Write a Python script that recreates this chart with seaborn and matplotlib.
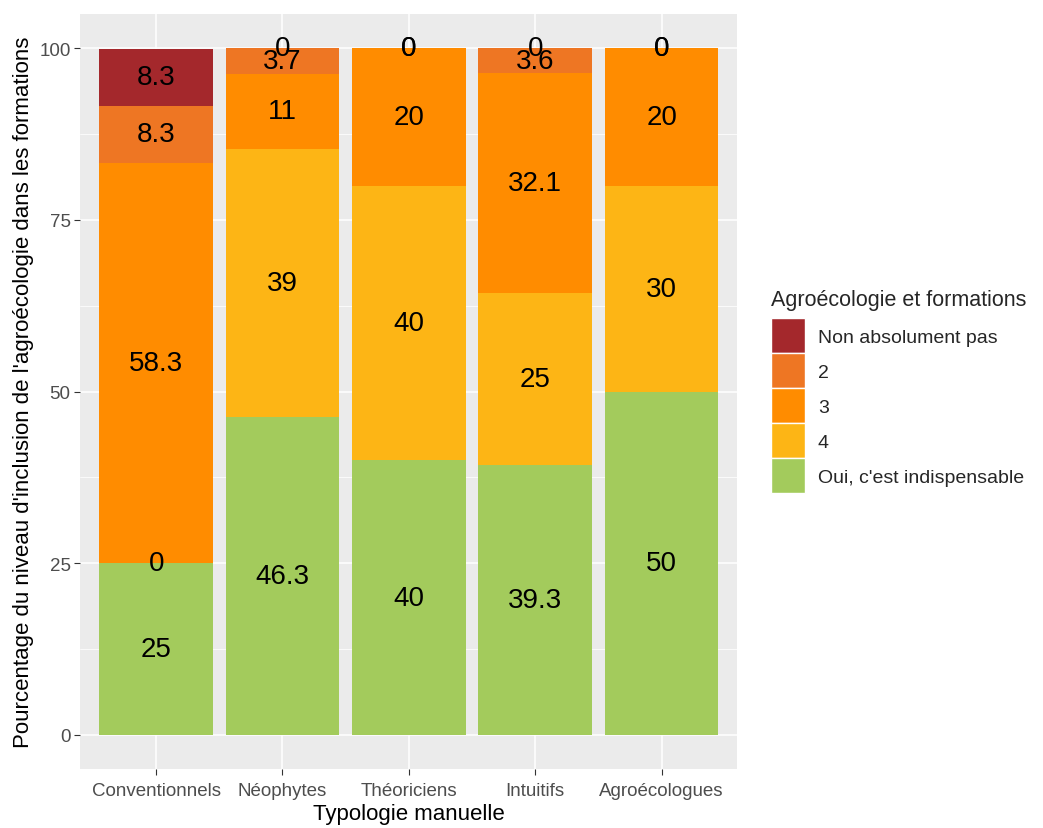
import numpy as np
import seaborn as sb
from matplotlib import pyplot as plt
from matplotlib.patches import Patch

categories = ["Conventionnels", "Néophytes", "Théoriciens", "Intuitifs", "Agroécologues"]
# stacking order, bottom to top
levels = ["Oui, c'est indispensable", "4", "3", "2", "Non absolument pas"]
oui = [25, 46.3, 40, 39.3, 50]
quatre = [0, 39, 40, 25, 30]
trois = [58.3, 11, 20, 32.1, 20]
deux = [8.3, 3.7, 0, 3.6, 0]
non = [8.3, 0, 0, 0, 0]
colors = ["#A3CB5C", "#FDB515", "#FF8C00", "#EE7623", "#A4282C"]

sb.set_theme(style="darkgrid")
plt.rcParams["font.family"] = ["Liberation Sans", "DejaVu Sans"]

fig = plt.figure(figsize=(10.43, 8.29), dpi=100)
ax = fig.add_axes([0.077, 0.071, 0.63, 0.911])
ax.set_facecolor("#EBEBEB")

series = [oui, quatre, trois, deux, non]
bottom = np.zeros(len(categories))
for vals, col in zip(series, colors):
    vals = np.array(vals, dtype=float)
    sb.barplot(x=categories, y=vals, bottom=bottom, color=col, width=0.9,
               saturation=1, linewidth=0, ax=ax)
    for i, v in enumerate(vals):
        ax.text(i, bottom[i] + v / 2, f"{v:g}", ha="center", va="center",
                fontsize=20, color="black")
    bottom = bottom + vals

ax.set_xlim(-0.6, 4.6)
ax.set_ylim(-5, 105)
ax.set_yticks([0, 25, 50, 75, 100])
ax.set_yticks([12.5, 37.5, 62.5, 87.5], minor=True)
ax.grid(which="major", color="white", linewidth=1.1)
ax.grid(which="minor", axis="y", color="white", linewidth=0.55)
ax.set_axisbelow(True)
for s in ax.spines.values():
    s.set_visible(False)
ax.tick_params(axis="both", which="major", length=4, width=0.8, color="#333333",
               labelcolor="#4D4D4D", labelsize=13.5, pad=3, bottom=True, left=True)
ax.tick_params(axis="x", pad=5)
ax.tick_params(which="minor", length=0)
ax.set_xlabel("Typologie manuelle", fontsize=16, color="black", labelpad=3)
ax.set_ylabel("Pourcentage du niveau d'inclusion de l'agroécologie dans les formations",
              fontsize=16, color="black", labelpad=4)

handles = [Patch(facecolor=c, edgecolor="white", linewidth=1) for c in colors[::-1]]
leg = fig.legend(handles, levels[::-1], title="Agroécologie et formations",
                 loc="upper left", bbox_to_anchor=(0.739, 0.650), frameon=False,
                 fontsize=14, title_fontsize=15.5, handlelength=1.75, handleheight=2.39,
                 labelspacing=0.0, handletextpad=0.67, borderaxespad=0, borderpad=0)
leg._legend_box.align = "left"
leg._legend_box.sep = 6

fig.savefig("out.png", dpi=100)
